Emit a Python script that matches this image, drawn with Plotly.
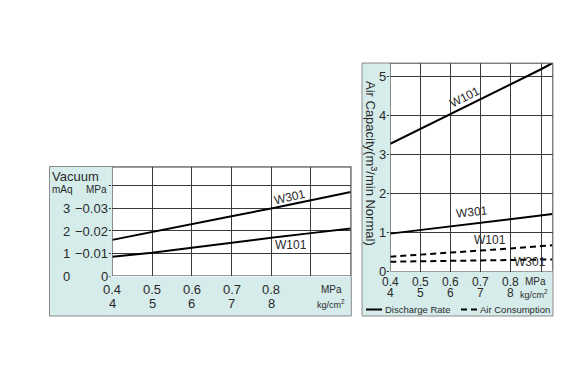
import plotly.graph_objects as go

# ---------------- data ----------------
pressure_mpa = [0.4, 0.5, 0.6, 0.7, 0.8, 0.9, 1.0]
vac_w301 = [0.0160, 0.0196, 0.0231, 0.0265, 0.0299, 0.0335, 0.0372]
vac_w101 = [0.0085, 0.0103, 0.0125, 0.0148, 0.0169, 0.0190, 0.0210]

pressure_r = [0.4, 0.5, 0.6, 0.7, 0.8, 0.9, 0.938]
dis_w101 = [3.27, 3.65, 4.03, 4.42, 4.80, 5.18, 5.34]
dis_w301 = [0.97, 1.06, 1.15, 1.24, 1.33, 1.42, 1.47]
air_w101 = [0.38, 0.43, 0.49, 0.54, 0.59, 0.65, 0.67]
air_w301 = [0.25, 0.26, 0.27, 0.28, 0.29, 0.30, 0.31]

x_tick_vals = [0.4, 0.5, 0.6, 0.7, 0.8]
x_tick_mpa = ["0.4", "0.5", "0.6", "0.7", "0.8"]
x_tick_kg = ["4", "5", "6", "7", "8"]
vac_tick_vals = [0.03, 0.02, 0.01, 0.0]
vac_tick_maq = ["3", "2", "1", "0"]
vac_tick_mpa = ["\u22120.03", "\u22120.02", "\u22120.01", "0"]
air_tick_vals = [0, 1, 2, 3, 4, 5]

W, H = 575, 380
FONT = "Liberation Sans, Arial, sans-serif"
BG = "#d5ecea"
GRID = "#3a3a3a"
BORDER = "#8a8a8a"
TXT = "#2a2a2a"
DASH = "6px,4px"

def px(x):
    return x / W

def py(y):
    return 1 - y / H

fig = go.Figure()

# left chart
fig.add_trace(go.Scatter(x=pressure_mpa, y=vac_w301, mode="lines",
                         line=dict(color="black", width=2), xaxis="x", yaxis="y",
                         showlegend=False, hoverinfo="skip"))
fig.add_trace(go.Scatter(x=pressure_mpa, y=vac_w101, mode="lines",
                         line=dict(color="black", width=2), xaxis="x", yaxis="y",
                         showlegend=False, hoverinfo="skip"))
# right chart
fig.add_trace(go.Scatter(x=pressure_r, y=dis_w101, mode="lines",
                         line=dict(color="black", width=2), xaxis="x2", yaxis="y2",
                         showlegend=False, hoverinfo="skip"))
fig.add_trace(go.Scatter(x=pressure_r, y=dis_w301, mode="lines",
                         line=dict(color="black", width=2), xaxis="x2", yaxis="y2",
                         showlegend=False, hoverinfo="skip"))
fig.add_trace(go.Scatter(x=pressure_r, y=air_w101, mode="lines",
                         line=dict(color="black", width=2, dash=DASH), xaxis="x2", yaxis="y2",
                         showlegend=False, hoverinfo="skip"))
fig.add_trace(go.Scatter(x=pressure_r, y=air_w301, mode="lines",
                         line=dict(color="black", width=2, dash=DASH), xaxis="x2", yaxis="y2",
                         showlegend=False, hoverinfo="skip"))

L_left, L_right, L_top, L_bot = 104.3, 342.7, 159.0, 268.0
R_left, R_right, R_top, R_bot = 382.3, 544.5, 55.0, 263.5

common_axis = dict(showline=False, zeroline=False, gridcolor=GRID, gridwidth=1,
                   showticklabels=False, fixedrange=True)

fig.update_layout(
    template="none",
    width=W, height=H,
    margin=dict(l=0, r=0, t=0, b=0),
    paper_bgcolor="#ffffff", plot_bgcolor="#ffffff",
    font=dict(family=FONT, color=TXT, size=12),
    showlegend=False,
    xaxis=dict(domain=[px(L_left), px(L_right)], range=[0.4, 1.0], dtick=0.1,
               tick0=0.4, anchor="y", **common_axis),
    yaxis=dict(domain=[py(L_bot), py(L_top)], range=[0, 0.0483], dtick=0.01, tick0=0,
               anchor="x", ticks="outside", ticklen=3, tickcolor=GRID, **common_axis),
    xaxis2=dict(domain=[px(R_left), px(R_right)], range=[0.4, 0.938], dtick=0.1,
                tick0=0.4, anchor="y2", **common_axis),
    yaxis2=dict(domain=[py(R_bot), py(R_top)], range=[0, 5.34], dtick=1, tick0=0,
                anchor="x2", ticks="outside", ticklen=3, tickcolor=GRID, **common_axis),
)

shapes = []
def prect(x0, x1, y0, y1, fill, line, layer="above"):
    shapes.append(dict(type="rect", xref="paper", yref="paper", layer=layer,
                       x0=px(x0), x1=px(x1), y0=py(y1), y1=py(y0),
                       fillcolor=fill, line=line))

# cyan label strips (left column + bottom strip) of each panel; they sit outside the plot areas
prect(41.5, L_left - 3.5, 158.5, 308, BG, dict(width=0))
prect(L_left - 3.5, 343.3, L_bot + 0.5, 308, BG, dict(width=0))
prect(354, R_left - 3.5, 55, 308, BG, dict(width=0))
prect(R_left - 3.5, 545, R_bot + 0.5, 308, BG, dict(width=0))
# narrow strips behind the tick marks, below so tick marks remain visible
prect(L_left - 3.5, L_left, 158.5, L_bot + 0.5, BG, dict(width=0), layer="below")
prect(R_left - 3.5, R_left, 55, R_bot + 0.5, BG, dict(width=0), layer="below")
# panel outer borders
prect(41.5, 343.3, 158.5, 308, "rgba(0,0,0,0)", dict(color=BORDER, width=1))
prect(354, 545, 55, 308, "rgba(0,0,0,0)", dict(color=BORDER, width=1))
# plot area borders
for xr, yr, x0, x1, y0, y1 in [("x", "y", 0.4, 1.0, 0, 0.0483), ("x2", "y2", 0.4, 0.938, 0, 5.34)]:
    shapes.append(dict(type="rect", xref=xr, yref=yr, x0=x0, x1=x1, y0=y0, y1=y1,
                       fillcolor="rgba(0,0,0,0)", line=dict(color=GRID, width=1), layer="above"))
# legend line samples (right panel)
shapes.append(dict(type="line", xref="paper", yref="paper", x0=px(358), x1=px(374),
                   y0=py(301.5), y1=py(301.5), line=dict(color="black", width=2)))
shapes.append(dict(type="line", xref="paper", yref="paper", x0=px(453), x1=px(469),
                   y0=py(301.5), y1=py(301.5), line=dict(color="black", width=2, dash=DASH)))
fig.update_layout(shapes=shapes)

ann = []
def A(text, x, y, xref="paper", yref="paper", size=12, xanchor="center", yanchor="middle", angle=0, **kw):
    ann.append(dict(text=text, x=x, y=y, xref=xref, yref=yref, showarrow=False,
                    font=dict(size=size, family=FONT, color=TXT), xanchor=xanchor,
                    yanchor=yanchor, textangle=angle, borderpad=0, **kw))

# left panel header
A("Vacuum", px(43), py(168), xanchor="left", size=13)
A("mAq", px(43), py(182), xanchor="left", size=10)
A("MPa", px(100), py(182), xanchor="right", size=10)
for v, m, p in zip(vac_tick_vals, vac_tick_maq, vac_tick_mpa):
    yy = py(L_bot - v / 0.01 * 22.5)
    A(m, px(58), yy, size=13)
    A(p, px(101), yy, xanchor="right", size=13)
# left x labels
for v, t1, t2 in zip(x_tick_vals, x_tick_mpa, x_tick_kg):
    A(t1, v, py(281.5), xref="x", size=13)
    A(t2, v, py(295.5), xref="x", size=13)
A("MPa", px(323), py(281.5), size=10)
A("kg/cm<sup>2</sup>", px(323), py(295.5), size=9)
# left line labels
A("W301", px(282), py(189), size=12, angle=-13)
A("W101", px(283), py(237), size=12)

# right panel
A("Air Capacity(m<sup>3</sup>/min Normal)", px(363), py(155), size=13, angle=90)
for v in air_tick_vals:
    A(str(v), px(379), py(R_bot - v * 39.04), xanchor="right", size=13)
for v, t1, t2 in zip(x_tick_vals, x_tick_mpa, x_tick_kg):
    A(t1, v, py(273.5), xref="x2", size=12)
    A(t2, v, py(285), xref="x2", size=12)
A("MPa", px(527), py(273.5), size=10)
A("kg/cm<sup>2</sup>", px(526), py(285.5), size=9)
A("Discharge Rate", px(376), py(301.5), xanchor="left", size=9.5)
A("Air Consumption", px(471), py(301.5), xanchor="left", size=9.5)
A("W101", px(457), py(89), size=12, angle=-27)
A("W301", px(464), py(204), size=12, angle=-6)
A("W101", px(482), py(232), size=12)
A("W301", px(522), py(254), size=12)

fig.update_layout(annotations=ann)
fig.write_html("out.html")
